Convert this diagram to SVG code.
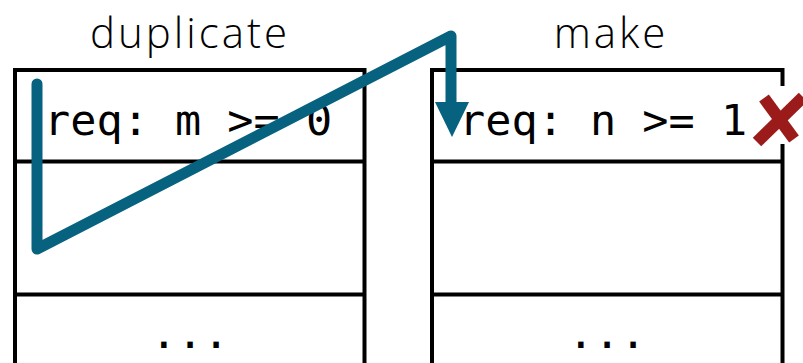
<svg xmlns="http://www.w3.org/2000/svg" width="803" height="363" viewBox="0 0 803 363">
<style>
.box{fill:#fff;stroke:#000;stroke-width:4}
.div{stroke:#000;stroke-width:4}
.title{font-family:"Open Sans","Liberation Sans",sans-serif;font-weight:300;font-size:42px;letter-spacing:3px;fill:#000;text-anchor:middle}
.code{font-family:"DejaVu Sans Mono","Liberation Mono",monospace;font-size:43.5px;fill:#000}
.dots{font-family:"DejaVu Sans Mono","Liberation Mono",monospace;font-size:43.5px;fill:#000;text-anchor:middle}
.conn{fill:none;stroke:#06627f;stroke-width:11;stroke-linejoin:round;stroke-linecap:round}
.x{stroke:#9b1b1b;stroke-width:12;stroke-linecap:butt}
</style>
<g id="duplicate">
<text class="title" x="190" y="48">duplicate</text>
<rect class="box" x="15" y="70" width="349.5" height="310"/>
<line class="div" x1="15" y1="161.5" x2="364.5" y2="161.5"/>
<line class="div" x1="15" y1="294.5" x2="364.5" y2="294.5"/>
<text class="code" x="44" y="135">req: m &gt;= 0</text>
<text class="dots" x="190" y="348">...</text>
</g>
<g id="make">
<text class="title" x="611" y="48">make</text>
<rect class="box" x="432" y="70" width="350.5" height="310"/>
<line class="div" x1="432" y1="161.5" x2="782.5" y2="161.5"/>
<line class="div" x1="432" y1="294.5" x2="782.5" y2="294.5"/>
<text class="code" x="459" y="135">req: n &gt;= 1</text>
<text class="dots" x="607" y="348">...</text>
</g>
<g id="connectors">
<path class="conn" d="M37,84 L37,249 L451,36 L451,104"/>
<polygon points="435,102 469,102 452,137" fill="#06627f"/>
</g>
<g id="fail-mark">
<rect x="752" y="86" width="51" height="58" fill="#fff"/>
<line class="x" x1="757" y1="142" x2="803" y2="97"/>
<line class="x" x1="764" y1="98" x2="794" y2="139"/>
</g>
</svg>
